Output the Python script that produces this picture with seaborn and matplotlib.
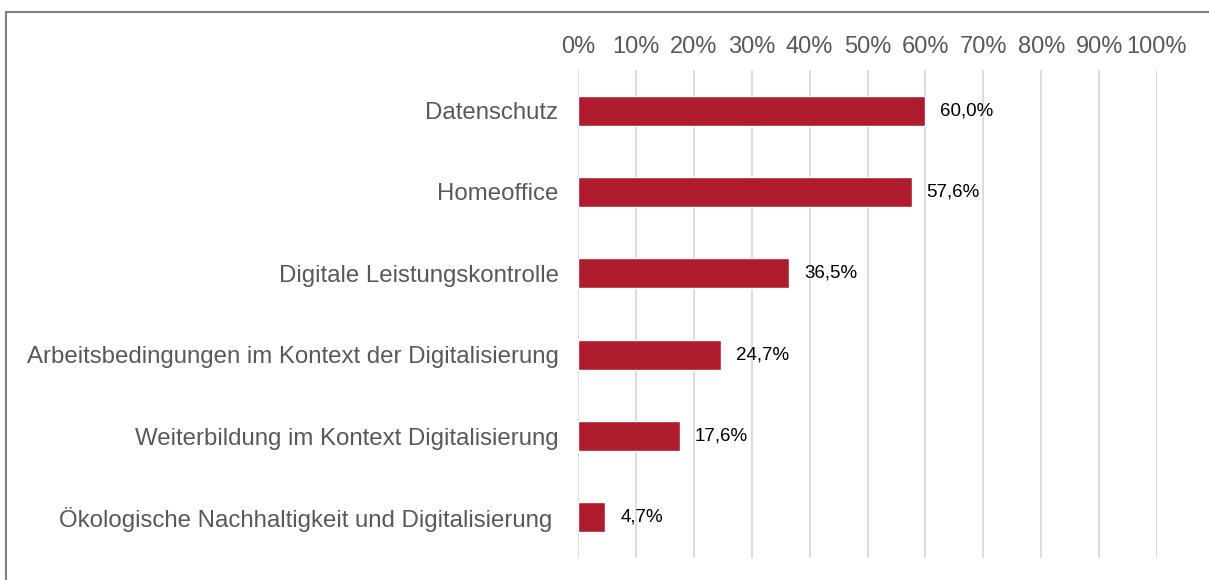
import matplotlib
matplotlib.use("Agg")
import matplotlib.pyplot as plt
import seaborn as sns
import pandas as pd
from matplotlib.lines import Line2D

# Data
topics = [
    "Datenschutz",
    "Homeoffice",
    "Digitale Leistungskontrolle",
    "Arbeitsbedingungen im Kontext der Digitalisierung",
    "Weiterbildung im Kontext Digitalisierung",
    "Ökologische Nachhaltigkeit und Digitalisierung ",
]
shares = [60.0, 57.6, 36.5, 24.7, 17.6, 4.7]
x_ticks = [0, 10, 20, 30, 40, 50, 60, 70, 80, 90, 100]

df = pd.DataFrame({"topic": topics, "share": shares})

sns.set_style("white")
plt.rcParams["font.family"] = ["Liberation Sans", "DejaVu Sans"]

fig = plt.figure(figsize=(12.09, 5.80), dpi=100)
ax = fig.add_axes([578 / 1209, 1 - 558 / 580, (1157 - 578) / 1209, (558 - 70) / 580])

sns.barplot(data=df, x="share", y="topic", color="#AE1C2E", width=0.37,
            saturation=1, ax=ax, zorder=3)

ax.set_xlim(0, 100)
ax.set_ylim(5.5, -0.5)
ax.set_xticks(x_ticks)
ax.set_xticklabels([f"{t}%" for t in x_ticks])
ax.xaxis.tick_top()
ax.tick_params(axis="x", length=0, pad=8.5, labelsize=17, colors="#595959")
ax.tick_params(axis="y", length=0, pad=14, labelsize=17.3, colors="#595959")
ax.set_xlabel("")
ax.set_ylabel("")
ax.grid(axis="x", color="#D9D9D9", linewidth=1.3, zorder=0)
for s in ax.spines.values():
    s.set_visible(False)

# value labels
for i, v in enumerate(shares):
    ax.text(v + 2.6, i, f"{v:.1f}%".replace(".", ","), va="center", ha="left",
            fontsize=13.5, color="#000000")

# outer frame (cut off at right and bottom)
x0 = 6 / 1209
y0 = 1 - 12 / 580
fig.add_artist(Line2D([x0, x0], [0, y0], transform=fig.transFigure, color="#808080", linewidth=1.5))
fig.add_artist(Line2D([x0, 1], [y0, y0], transform=fig.transFigure, color="#808080", linewidth=1.5))

fig.savefig("out.png", dpi=100)
